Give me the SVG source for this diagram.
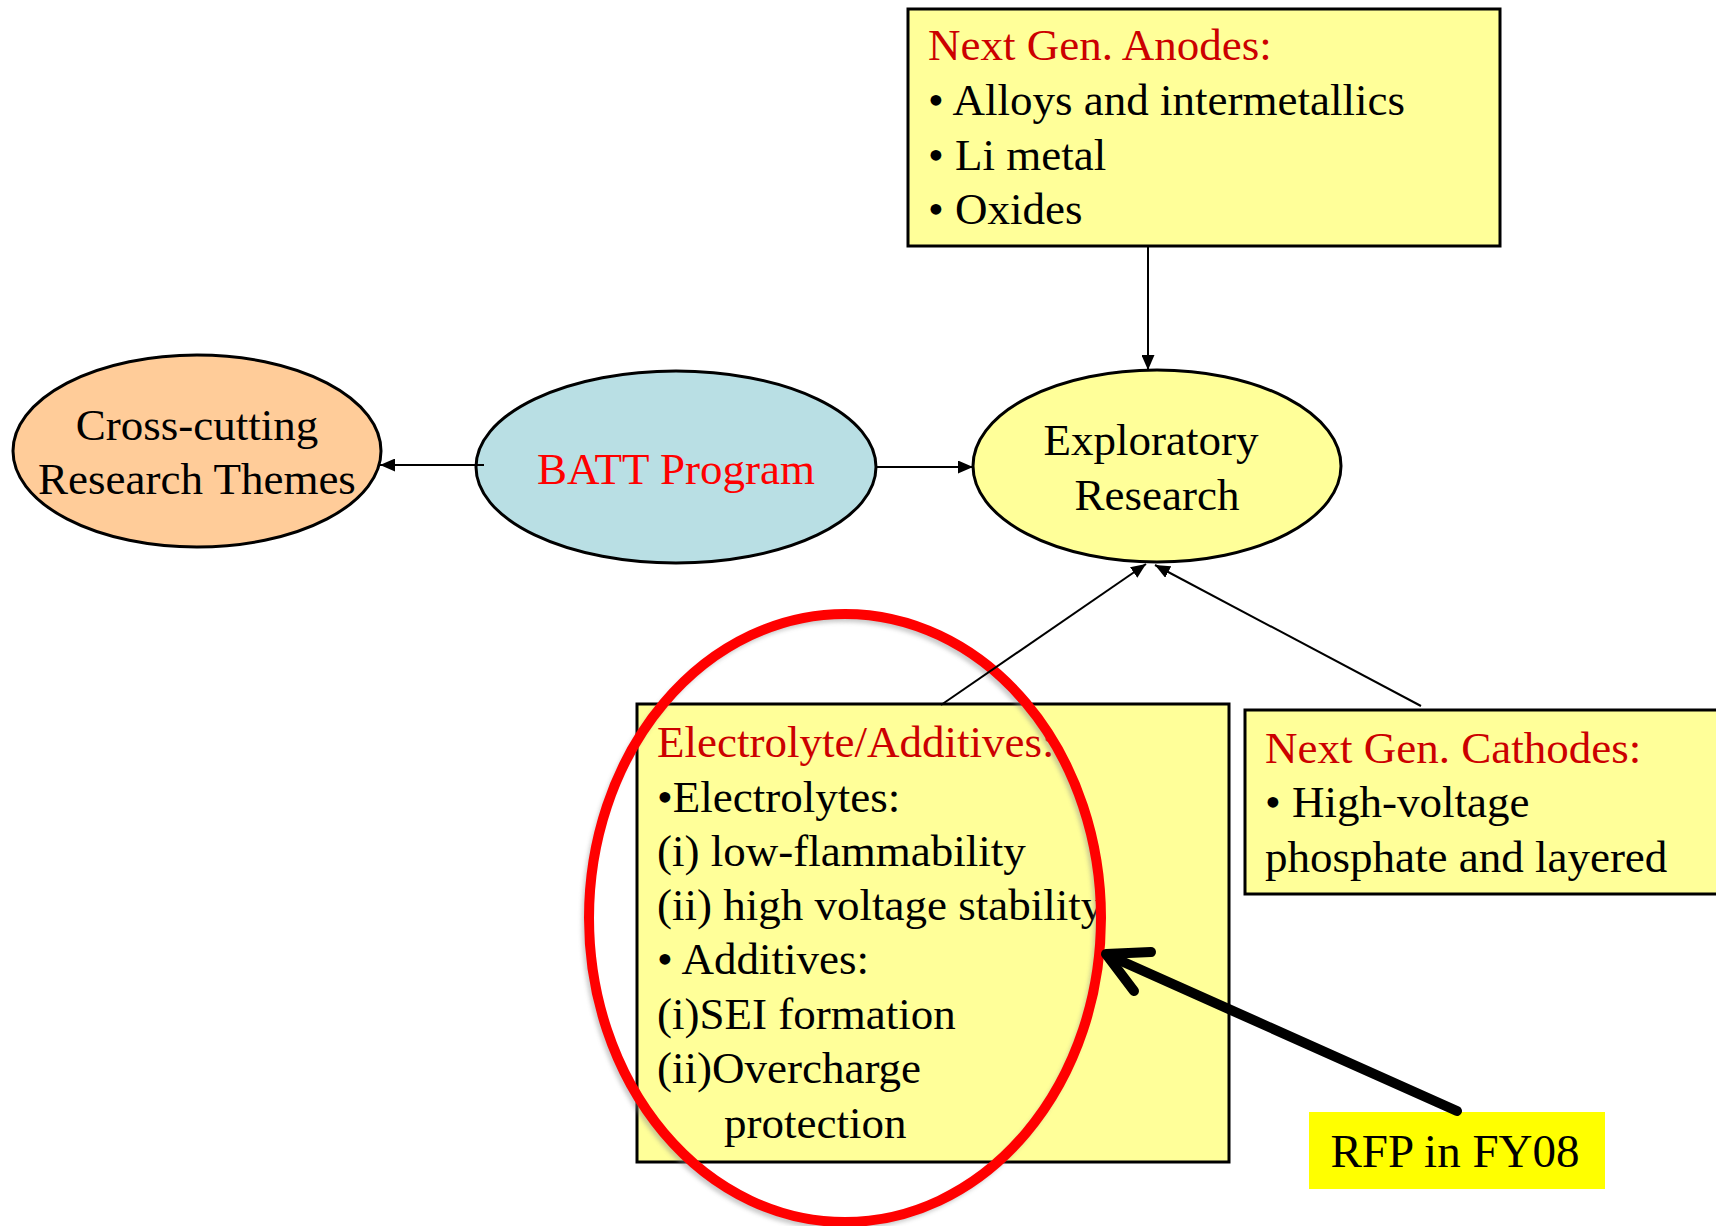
<svg xmlns="http://www.w3.org/2000/svg" width="1716" height="1226" viewBox="0 0 1716 1226">
<defs>
<style>
text{font-family:"Liberation Serif","Times New Roman",serif;font-size:45px;fill:#000}
.red{fill:#CC0000}
.bred{fill:#FF0000}
.box{fill:#FFFF99;stroke:#000;stroke-width:3}
.ell{stroke:#000;stroke-width:3}
.con{stroke:#000;stroke-width:2;fill:none}
.mid{text-anchor:middle}
</style>
<marker id="ah" markerUnits="userSpaceOnUse" markerWidth="16" markerHeight="13" refX="15" refY="6.5" orient="auto">
<path d="M0,0 L15,6.5 L0,13 Z" fill="#000"/>
</marker>
<filter id="blur" x="-10%" y="-10%" width="120%" height="120%"><feGaussianBlur stdDeviation="2"/></filter>
</defs>
<rect width="1716" height="1226" fill="#fff"/>

<g id="node-anodes">
<rect class="box" x="908" y="9" width="592" height="237"/>
<text class="red" x="928" y="60">Next Gen. Anodes:</text>
<text x="928" y="115">• Alloys and intermetallics</text>
<text x="928" y="170">• Li metal</text>
<text x="928" y="224">• Oxides</text>
</g>

<g id="node-crosscutting">
<ellipse class="ell" cx="197" cy="451" rx="184" ry="96" fill="#FFCC99"/>
<text class="mid" x="197" y="440">Cross-cutting</text>
<text class="mid" x="197" y="494">Research Themes</text>
</g>

<g id="node-batt">
<ellipse class="ell" cx="676" cy="467" rx="200" ry="96" fill="#B9DFE4"/>
<text class="mid bred" x="676" y="484">BATT Program</text>
</g>

<g id="node-exploratory">
<ellipse class="ell" cx="1157" cy="466" rx="184" ry="96" fill="#FFFF99"/>
<text class="mid" x="1151" y="455">Exploratory</text>
<text class="mid" x="1157" y="510">Research</text>
</g>

<g id="node-electrolyte">
<rect class="box" x="637" y="704" width="592" height="458"/>
<text class="red" x="657" y="757">Electrolyte/Additives:</text>
<text x="657" y="812">•Electrolytes:</text>
<text x="657" y="866">(i) low-flammability</text>
<text x="657" y="920">(ii) high voltage stability</text>
<text x="657" y="974">• Additives:</text>
<text x="657" y="1029">(i)SEI formation</text>
<text x="657" y="1083">(ii)Overcharge</text>
<text x="724" y="1138">protection</text>
</g>

<g id="node-cathodes">
<rect class="box" x="1245" y="710" width="480" height="184"/>
<text class="red" x="1265" y="763">Next Gen. Cathodes:</text>
<text x="1265" y="817">• High-voltage</text>
<text x="1265" y="872">phosphate and layered</text>
</g>

<g id="highlight">
<ellipse cx="842" cy="922" rx="256" ry="304" fill="none" stroke="#888" stroke-width="8" opacity="0.45" filter="url(#blur)"/>
<ellipse cx="845" cy="918" rx="256" ry="304" fill="none" stroke="#FF0000" stroke-width="10"/>
</g>

<g id="node-rfp">
<rect x="1309" y="1112" width="296" height="77" fill="#FFFF00"/>
<text class="mid" x="1455" y="1167" style="font-size:47px">RFP in FY08</text>
</g>

<g id="connectors">
<line class="con" x1="484" y1="465" x2="380" y2="465" marker-end="url(#ah)"/>
<line class="con" x1="877" y1="467" x2="973" y2="467" marker-end="url(#ah)"/>
<line class="con" x1="1148" y1="246" x2="1148" y2="370" marker-end="url(#ah)"/>
<line class="con" x1="941" y1="705" x2="1146" y2="564" marker-end="url(#ah)"/>
<line class="con" x1="1421" y1="706" x2="1155" y2="565" marker-end="url(#ah)"/>
<g fill="none" stroke="#000" stroke-width="10" stroke-linecap="round" stroke-linejoin="round">
<line x1="1457" y1="1111" x2="1110" y2="956"/>
<polyline points="1151,952 1106,954 1134,991"/>
</g>
</g>
</svg>
